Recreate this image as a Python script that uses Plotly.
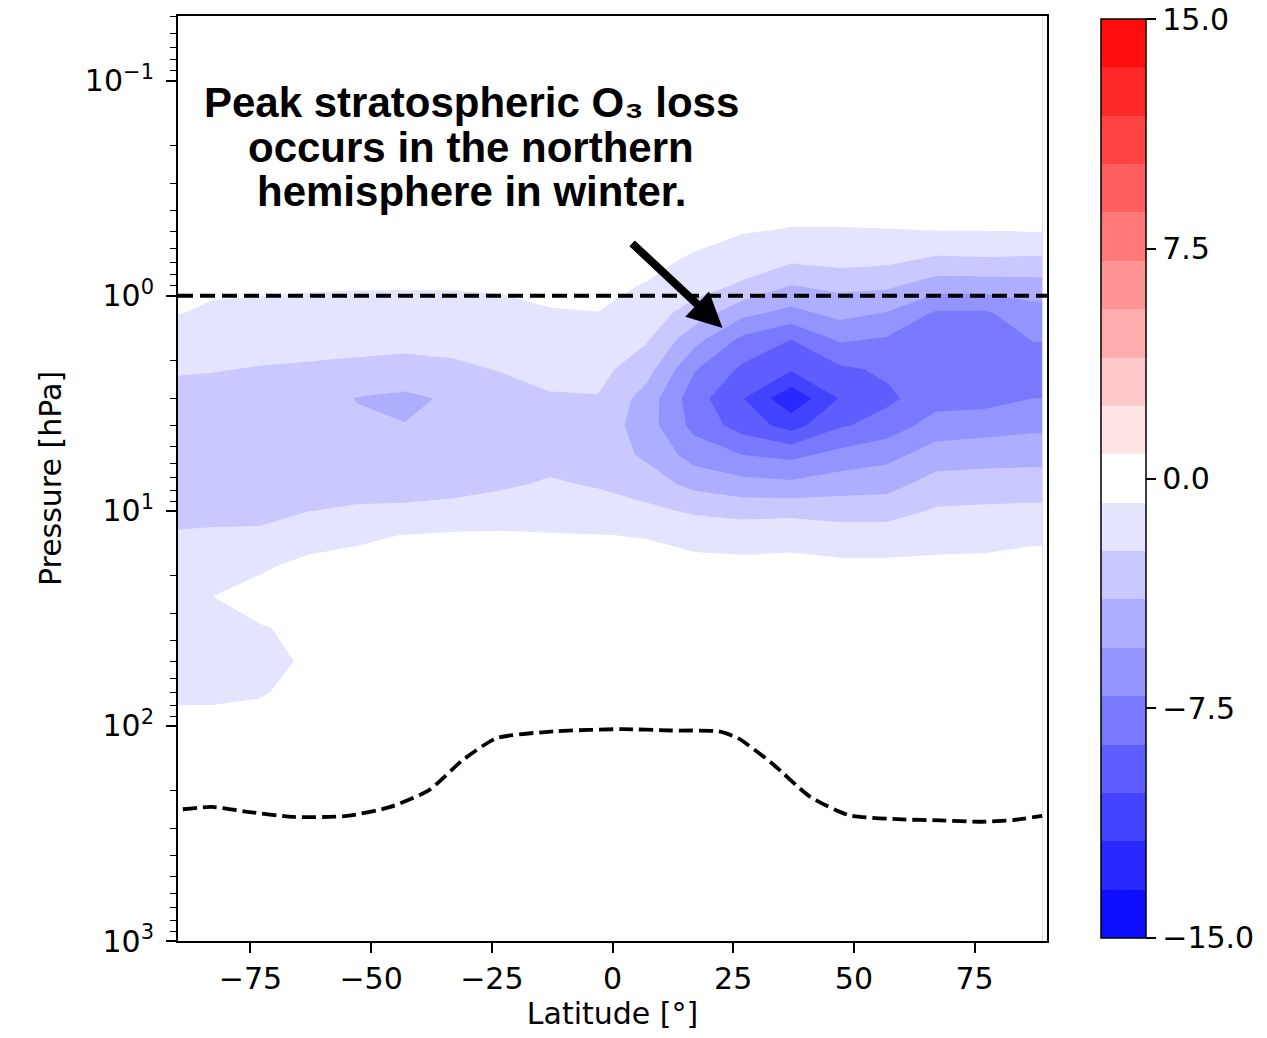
import numpy as np
import plotly.graph_objects as go

# ---------------- data ----------------
latitudes = [-90, -83, -73, -63, -53, -43, -33, -23, -13, -3, 7, 17, 27, 37, 47, 57, 67, 77, 87, 89]
pressure_hpa = [1000, 500, 250, 150, 100, 70, 50, 35, 25, 18, 13, 10, 7.5, 5.5, 4, 3,
                2.2, 1.6, 1.2, 0.9, 0.7, 0.5, 0.35, 0.2, 0.1, 0.05]

# O3 change [%]: one vertical profile per latitude (ordered like pressure_hpa)
o3_change_profiles = [
    [0, 0, -0.1, -0.3, -0.6, -0.9, -1.1, -1.3, -1.5, -1.8, -2.3, -2.6, -3.0, -3.3, -3.2, -2.8, -2.25, -1.6, -0.75, -0.5, -0.2, 0, 0, 0, 0, 0],
    [0, 0, -0.1, -0.3, -0.6, -0.9, -1.1, -1.0, -0.8, -1.4, -2.2, -2.7, -3.1, -3.4, -3.3, -2.9, -2.3, -1.7, -0.95, -0.6, -0.3, 0, 0, 0, 0, 0],
    [0, 0, 0, -0.2, -0.5, -0.85, -1.0, -0.85, -0.4, -0.95, -2.1, -2.8, -3.2, -3.5, -3.4, -3.0, -2.45, -1.8, -1.1, -0.6, -0.35, 0, 0, 0, 0, 0],
    [0, 0, 0, -0.1, -0.3, -0.55, -0.7, -0.6, -0.4, -0.5, -1.3, -2.4, -3.3, -3.6, -3.5, -3.1, -2.55, -1.85, -1.2, -0.65, -0.4, 0, 0, 0, 0, 0],
    [0, 0, 0, 0, -0.1, -0.1, -0.2, -0.2, -0.2, -0.4, -1.0, -2.1, -3.2, -3.6, -3.7, -4.0, -2.7, -1.9, -1.25, -0.7, -0.4, 0, 0, 0, 0, 0],
    [0, 0, 0, 0, 0, -0.1, -0.1, -0.1, -0.2, -0.3, -0.75, -2.1, -3.0, -3.5, -3.9, -4.3, -2.8, -2.0, -1.3, -0.7, -0.4, 0, 0, 0, 0, 0],
    [0, 0, 0, 0, 0, 0, -0.1, -0.1, -0.2, -0.3, -0.6, -1.9, -2.9, -3.4, -3.6, -3.7, -2.65, -1.9, -1.25, -0.7, -0.4, 0, 0, 0, 0, 0],
    [0, 0, 0, 0, 0, 0, 0, -0.1, -0.2, -0.3, -0.6, -1.6, -2.6, -3.3, -3.3, -2.9, -2.3, -1.7, -1.1, -0.65, -0.35, 0, 0, 0, 0, 0],
    [0, 0, 0, 0, 0, 0, 0, -0.1, -0.2, -0.35, -0.7, -1.5, -2.2, -2.9, -3.0, -2.5, -1.95, -1.4, -0.85, -0.55, -0.3, 0, 0, 0, 0, 0],
    [0, 0, 0, 0, 0, 0, 0, -0.1, -0.2, -0.35, -0.75, -1.7, -2.5, -3.1, -2.9, -2.45, -1.9, -1.3, -0.8, -0.55, -0.3, 0, 0, 0, 0, 0],
    [0, 0, 0, 0, 0, 0, 0, -0.1, -0.2, -0.35, -0.85, -2.0, -3.2, -4.2, -4.8, -4.6, -3.3, -2.2, -1.6, -0.85, -0.5, -0.2, 0, 0, 0, 0],
    [0, 0, 0, 0, 0, 0, 0, -0.1, -0.2, -0.45, -1.2, -2.6, -4.4, -6.2, -7.6, -8.0, -7.0, -5.0, -3.0, -1.8, -1.0, -0.4, 0, 0, 0, 0],
    [0, 0, 0, 0, 0, 0, 0, -0.1, -0.2, -0.45, -1.4, -2.9, -5.0, -7.1, -9.4, -10.2, -9.0, -7.5, -5.1, -2.6, -1.7, -0.7, 0, 0, 0, 0],
    [0, 0, 0, 0, 0, 0, 0, -0.1, -0.2, -0.4, -1.3, -2.8, -5.2, -7.5, -10.9, -13.0, -10.1, -8.7, -6.0, -4.0, -2.3, -0.9, 0, 0, 0, 0],
    [0, 0, 0, 0, 0, 0, 0, -0.1, -0.2, -0.5, -1.6, -3.0, -4.7, -6.6, -8.9, -10.2, -9.0, -6.9, -5.0, -3.6, -2.0, -0.9, 0, 0, 0, 0],
    [0, 0, 0, 0, 0, 0, 0, 0, -0.2, -0.5, -1.6, -3.0, -4.5, -6.0, -8.0, -9.0, -8.4, -7.3, -5.6, -3.7, -2.2, -0.85, 0, 0, 0, 0],
    [0, 0, 0, 0, 0, 0, 0, 0, -0.2, -0.5, -1.3, -2.2, -3.3, -4.8, -6.4, -7.8, -8.4, -8.2, -7.3, -4.8, -2.8, -0.8, 0, 0, 0, 0],
    [0, 0, 0, 0, 0, 0, 0, 0, -0.2, -0.5, -1.2, -2.1, -3.2, -4.6, -6.2, -7.7, -8.5, -8.3, -7.3, -4.8, -2.7, -0.8, 0, 0, 0, 0],
    [0, 0, 0, 0, 0, 0, 0, 0, -0.2, -0.4, -1.0, -2.0, -3.2, -4.5, -5.9, -7.1, -7.8, -7.05, -6.2, -4.6, -2.8, -0.75, 0, 0, 0, 0],
    [0, 0, 0, 0, 0, 0, 0, 0, -0.2, -0.4, -1.0, -2.0, -3.2, -4.5, -5.9, -7.1, -7.8, -7.05, -6.2, -4.6, -2.8, -0.75, 0, 0, 0, 0],
]

tropopause_lat = [-89, -83, -76, -66, -55, -46, -38, -31, -24, -12, 2, 12, 22, 26, 33, 41, 49, 60, 68, 76, 83, 89]
tropopause_hpa = [244, 238, 250, 265, 262, 238, 199, 144, 114, 106, 103.5, 105, 106, 114, 149, 214, 260, 272, 275, 279, 274, 262]
stratopause_hpa = 1.0

lat_ticks = [-75, -50, -25, 0, 25, 50, 75]
lat_ticktext = ["\u221275", "\u221250", "\u221225", "0", "25", "50", "75"]
p_ticks = [0.1, 1, 10, 100, 1000]
p_ticktext = ["10<sup>\u22121</sup>", "10<sup>0</sup>", "10<sup>1</sup>", "10<sup>2</sup>", "10<sup>3</sup>"]
cb_ticks = [-15, -7.5, 0, 7.5, 15]
cb_ticktext = ["\u221215.0", "\u22127.5", "0.0", "7.5", "15.0"]

# ---------------- styling helpers ----------------
LEVEL_MIN, LEVEL_MAX, N_BANDS = -15.0, 15.0, 19
STEP = (LEVEL_MAX - LEVEL_MIN) / N_BANDS


def bwr(v):
    t = (v - LEVEL_MIN) / (LEVEL_MAX - LEVEL_MIN)
    if t < 0.5:
        c = int(round(2 * t * 255))
        return f"rgb({c},{c},255)"
    c = int(round(2 * (1 - t) * 255))
    return f"rgb(255,{c},{c})"


# contour fill colours: plotly maps the scale onto [start-step/2, end+step/2]
span = (N_BANDS + 1) * STEP
def pos(v):
    return (v - (LEVEL_MIN - STEP / 2)) / span

contour_scale = [[0, bwr(LEVEL_MIN)], [pos(LEVEL_MIN), bwr(LEVEL_MIN)], [pos(0), bwr(0)],
                 [pos(LEVEL_MAX), bwr(LEVEL_MAX)], [1, bwr(LEVEL_MAX)]]

# discrete colour bar scale
cb_scale = []
for i in range(N_BANDS):
    lo = LEVEL_MIN + i * STEP
    col = bwr(lo + STEP / 2)
    cb_scale.append([i / N_BANDS, col])
    cb_scale.append([(i + 1) / N_BANDS, col])

# nudge end ticks just inside the bar so plotly keeps their labels
cb_tickpos = [max(min(v, LEVEL_MAX - 1e-3), LEVEL_MIN + 1e-3) for v in cb_ticks]

z = np.array(o3_change_profiles).T

fig = go.Figure()
fig.add_trace(go.Contour(
    x=latitudes, y=pressure_hpa, z=z,
    contours=dict(start=LEVEL_MIN, end=LEVEL_MAX, size=STEP, coloring="fill", showlines=False),
    line=dict(width=0), line_smoothing=0,
    colorscale=contour_scale, showscale=False, hoverinfo="skip",
))

# stratopause reference line
fig.add_trace(go.Scatter(
    x=[-90, 90], y=[stratopause_hpa, stratopause_hpa], mode="lines",
    line=dict(color="black", width=4, dash="15px,7px"), showlegend=False, hoverinfo="skip"))

# tropopause
fig.add_trace(go.Scatter(
    x=tropopause_lat, y=tropopause_hpa, mode="lines",
    line=dict(color="black", width=3.8, dash="14px,6px", shape="spline", smoothing=0.6),
    showlegend=False, hoverinfo="skip"))

# colour bar (dummy trace)
fig.add_trace(go.Scatter(
    x=[None], y=[None], mode="markers", showlegend=False, hoverinfo="skip",
    marker=dict(size=0, color=[0], cmin=LEVEL_MIN, cmax=LEVEL_MAX, colorscale=cb_scale, showscale=True,
                colorbar=dict(x=1.0621, xanchor="left", xpad=0, y=0.5, yanchor="middle", ypad=0,
                              len=0.9935, lenmode="fraction", thickness=45, thicknessmode="pixels",
                              outlinewidth=1.5, outlinecolor="black",
                              tickmode="array", tickvals=cb_tickpos, ticktext=cb_ticktext,
                              ticks="outside", ticklen=10, tickwidth=1.5, tickcolor="black",
                              ticklabeloverflow="allow",
                              tickfont=dict(size=30, family="DejaVu Sans", color="black"))),
))

minor_vals = []
for dec in [0.01, 0.1, 1, 10, 100]:
    for m in range(2, 10):
        v = m * dec
        if 0.05 <= v <= 1000:
            minor_vals.append(v)

fig.update_xaxes(
    range=[-90, 90], tickmode="array", tickvals=lat_ticks, ticktext=lat_ticktext,
    ticks="outside", ticklen=10, tickwidth=1.5, tickcolor="black",
    showline=True, mirror=True, linecolor="black", linewidth=2,
    showgrid=False, zeroline=False,
    title=dict(text="Latitude [°]", standoff=6, font=dict(size=30)),
)
fig.update_yaxes(
    type="log", range=[3, np.log10(0.05)], tickmode="array", tickvals=p_ticks, ticktext=p_ticktext,
    ticks="outside", ticklen=10, tickwidth=1.5, tickcolor="black", ticklabelstandoff=6,
    minor=dict(ticks="outside", ticklen=6, tickwidth=1.2, tickcolor="black", tickmode="array",
               tickvals=minor_vals, showgrid=False),
    showline=True, mirror=True, linecolor="black", linewidth=2,
    showgrid=False, zeroline=False,
    title=dict(text="Pressure [hPa]", standoff=14, font=dict(size=30)),
)

ann_font = dict(family="Liberation Sans, Arial, sans-serif", size=42, color="black")
lines = ["<b>Peak stratospheric O\u2083 loss</b>",
         "<b>occurs in the northern</b>",
         "<b>hemisphere in winter.</b>"]
for txt, yp in zip(lines, [0.9060, 0.8573, 0.8108]):
    fig.add_annotation(text=txt, xref="paper", yref="paper", x=0.3372, y=yp,
                       xanchor="center", yanchor="middle", showarrow=False, font=ann_font)

fig.add_annotation(x=22.8, y=np.log10(1.41), xref="x", yref="y", ax=-92, ay=-86,
                   text="", showarrow=True, arrowhead=2, arrowsize=0.87, arrowwidth=8,
                   arrowcolor="black")

fig.update_layout(
    width=1267, height=1038,
    margin=dict(l=178, r=220, t=16, b=97, autoexpand=False),
    plot_bgcolor="white", paper_bgcolor="white",
    font=dict(family="DejaVu Sans", size=30, color="black"),
    showlegend=False,
)

fig.write_html("out.html")
